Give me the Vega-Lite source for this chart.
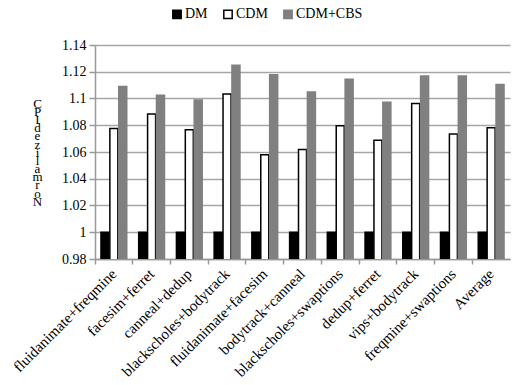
{
  "$schema": "https://vega.github.io/schema/vega-lite/v6.json",
  "autosize": "none",
  "width": 415,
  "height": 214,
  "padding": {"left": 95, "top": 45, "right": 2, "bottom": 126},
  "background": "white",
  "config": {
    "font": "Liberation Serif, Times New Roman, serif",
    "view": {"stroke": null}
  },
  "data": {
    "values": [
      {"workload": "fluidanimate+freqmine", "scheme": "DM", "cpi": 1},
      {"workload": "fluidanimate+freqmine", "scheme": "CDM", "cpi": 1.0775},
      {"workload": "fluidanimate+freqmine", "scheme": "CDM+CBS", "cpi": 1.1089},
      {"workload": "facesim+ferret", "scheme": "DM", "cpi": 1},
      {"workload": "facesim+ferret", "scheme": "CDM", "cpi": 1.0884},
      {"workload": "facesim+ferret", "scheme": "CDM+CBS", "cpi": 1.1024},
      {"workload": "canneal+dedup", "scheme": "DM", "cpi": 1},
      {"workload": "canneal+dedup", "scheme": "CDM", "cpi": 1.0767},
      {"workload": "canneal+dedup", "scheme": "CDM+CBS", "cpi": 1.0989},
      {"workload": "blackscholes+bodytrack", "scheme": "DM", "cpi": 1},
      {"workload": "blackscholes+bodytrack", "scheme": "CDM", "cpi": 1.1034},
      {"workload": "blackscholes+bodytrack", "scheme": "CDM+CBS", "cpi": 1.1248},
      {"workload": "fluidanimate+facesim", "scheme": "DM", "cpi": 1},
      {"workload": "fluidanimate+facesim", "scheme": "CDM", "cpi": 1.058},
      {"workload": "fluidanimate+facesim", "scheme": "CDM+CBS", "cpi": 1.1178},
      {"workload": "bodytrack+canneal", "scheme": "DM", "cpi": 1},
      {"workload": "bodytrack+canneal", "scheme": "CDM", "cpi": 1.0618},
      {"workload": "bodytrack+canneal", "scheme": "CDM+CBS", "cpi": 1.1049},
      {"workload": "blackscholes+swaptions", "scheme": "DM", "cpi": 1},
      {"workload": "blackscholes+swaptions", "scheme": "CDM", "cpi": 1.0797},
      {"workload": "blackscholes+swaptions", "scheme": "CDM+CBS", "cpi": 1.1144},
      {"workload": "dedup+ferret", "scheme": "DM", "cpi": 1},
      {"workload": "dedup+ferret", "scheme": "CDM", "cpi": 1.0687},
      {"workload": "dedup+ferret", "scheme": "CDM+CBS", "cpi": 1.0972},
      {"workload": "vips+bodytrack", "scheme": "DM", "cpi": 1},
      {"workload": "vips+bodytrack", "scheme": "CDM", "cpi": 1.0962},
      {"workload": "vips+bodytrack", "scheme": "CDM+CBS", "cpi": 1.1168},
      {"workload": "freqmine+swaptions", "scheme": "DM", "cpi": 1},
      {"workload": "freqmine+swaptions", "scheme": "CDM", "cpi": 1.0735},
      {"workload": "freqmine+swaptions", "scheme": "CDM+CBS", "cpi": 1.1168},
      {"workload": "Average", "scheme": "DM", "cpi": 1},
      {"workload": "Average", "scheme": "CDM", "cpi": 1.0782},
      {"workload": "Average", "scheme": "CDM+CBS", "cpi": 1.1104}
    ]
  },
  "mark": {"type": "bar", "strokeWidth": 1.5, "clip": true},
  "encoding": {
    "x": {
      "field": "workload",
      "type": "nominal",
      "sort": null,
      "scale": {"paddingInner": 0, "paddingOuter": 0},
      "axis": {
        "title": null,
        "labelAngle": -45,
        "labelAlign": "right",
        "labelBaseline": "middle",
        "labelFontSize": 15,
        "labelColor": "black",
        "labelPadding": 7,
        "bandPosition": 0,
        "domainColor": "#999999",
        "domainWidth": 1.5,
        "tickColor": "#999999",
        "tickSize": 5,
        "tickWidth": 1.5
      }
    },
    "xOffset": {
      "field": "scheme",
      "type": "nominal",
      "sort": ["DM", "CDM", "CDM+CBS"],
      "scale": {"paddingInner": 0.1, "paddingOuter": 0.67}
    },
    "y": {
      "field": "cpi",
      "type": "quantitative",
      "scale": {"domain": [0.98, 1.14], "zero": false, "nice": false},
      "axis": {
        "values": [0.98, 1, 1.02, 1.04, 1.06, 1.08, 1.1, 1.12, 1.14],
        "format": ".2~f",
        "title": ["C", "P", "I", "d", "e", "z", "i", "l", "a", "m", "r", "o", "N"],
        "titleAngle": 0,
        "titleAlign": "center",
        "titleBaseline": "top",
        "titleX": -58,
        "titleY": 52,
        "titleFontSize": 13,
        "titleFontWeight": "normal",
        "titleLineHeight": 8.2,
        "titleColor": "black",
        "labelFontSize": 14,
        "labelColor": "black",
        "labelPadding": 3,
        "domainColor": "#999999",
        "domainWidth": 1.5,
        "tickColor": "#999999",
        "tickSize": 6,
        "tickWidth": 1.5,
        "grid": true,
        "gridColor": "#a6a6a6",
        "gridWidth": 1.5
      }
    },
    "fill": {
      "field": "scheme",
      "type": "nominal",
      "sort": ["DM", "CDM", "CDM+CBS"],
      "scale": {"domain": ["DM", "CDM", "CDM+CBS"], "range": ["#000000", "#ffffff", "#808080"]},
      "legend": {
        "title": null,
        "orient": "none",
        "direction": "horizontal",
        "legendX": 75,
        "legendY": -38,
        "symbolType": "square",
        "symbolSize": 70,
        "symbolStrokeWidth": 1.5,
        "labelFontSize": 14,
        "labelColor": "black",
        "labelOffset": 1,
        "columnPadding": 12
      }
    },
    "stroke": {
      "field": "scheme",
      "type": "nominal",
      "sort": ["DM", "CDM", "CDM+CBS"],
      "scale": {"domain": ["DM", "CDM", "CDM+CBS"], "range": ["#000000", "#000000", "#808080"]}
    }
  }
}
